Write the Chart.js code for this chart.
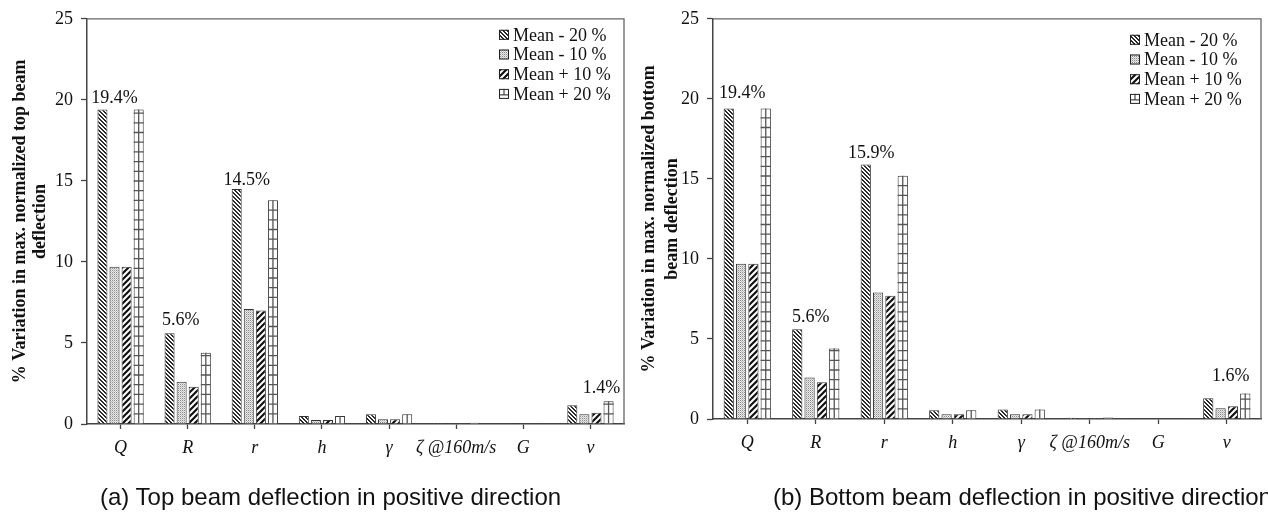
<!DOCTYPE html>
<html>
<head>
<meta charset="utf-8">
<script src="https://cdn.jsdelivr.net/npm/chart.js@4/dist/chart.umd.min.js"></script>
<style>
  html, body { margin: 0; padding: 0; background: #fff; }
  body { width: 1268px; height: 512px; position: relative; overflow: hidden; }
  .box { position: absolute; top: 0; width: 634px; height: 512px; }
  .caption { position: absolute; top: 483px; font: 24px "Liberation Sans", Arial, sans-serif; color: #111; white-space: nowrap; }
</style>
</head>
<body>
<div class="box" style="left:0"><canvas id="chartTop"></canvas></div>
<div class="box" style="left:634px"><canvas id="chartBottom"></canvas></div>
<div class="caption" style="left:100px">(a) Top beam deflection in positive direction</div>
<div class="caption" style="left:773px">(b) Bottom beam deflection in positive direction</div>
<script>
const categories = ["Q", "R", "r", "h", "γ", "ζ @160m/s", "G", "v"];
const seriesLabels = ["Mean - 20 %", "Mean - 10 %", "Mean + 10 %", "Mean + 20 %"];
const yTicks = [0, 5, 10, 15, 20, 25];

// (a) top beam
const topMinus20 = [19.4, 5.6, 14.5, 0.5, 0.6, 0.05, 0.02, 1.15];
const topMinus10 = [9.7, 2.6, 7.1, 0.25, 0.3, 0.04, 0.02, 0.6];
const topPlus10 = [9.7, 2.3, 7.0, 0.25, 0.3, 0.04, 0.02, 0.7];
const topPlus20 = [19.4, 4.4, 13.8, 0.5, 0.6, 0.08, 0.02, 1.4];

// (b) bottom beam
const bottomMinus20 = [19.4, 5.6, 15.9, 0.55, 0.6, 0.08, 0.02, 1.3];
const bottomMinus10 = [9.7, 2.6, 7.9, 0.3, 0.3, 0.05, 0.02, 0.67];
const bottomPlus10 = [9.7, 2.3, 7.7, 0.3, 0.3, 0.05, 0.02, 0.8];
const bottomPlus20 = [19.4, 4.4, 15.2, 0.55, 0.6, 0.1, 0.02, 1.6];

const SERIF = '"Liberation Serif", "Times New Roman", serif';

function tile(size, draw) {
  const c = document.createElement("canvas");
  c.width = size; c.height = size;
  const g = c.getContext("2d");
  g.fillStyle = "#fff";
  g.fillRect(0, 0, size, size);
  draw(g);
  return c.getContext("2d").createPattern(c, "repeat");
}

const patterns = [
  // dense backslash hatch
  tile(4, (g) => {
    g.fillStyle = "#2a2a2a";
    for (let i = 0; i < 4; i++) { g.fillRect(i, i, 1, 1); g.fillRect((i + 1) % 4, i, 1, 1); }
  }),
  // fine dots
  tile(2, (g) => {
    g.fillStyle = "#e8e8e8"; g.fillRect(0, 0, 2, 2);
    g.fillStyle = "#8c8c8c"; g.fillRect(0, 0, 1, 1);
    g.fillStyle = "#c4c4c4"; g.fillRect(1, 1, 1, 1);
  }),
  // wide forward slash
  tile(6, (g) => {
    g.strokeStyle = "#111"; g.lineWidth = 2.2;
    g.beginPath();
    g.moveTo(-1, 7); g.lineTo(7, -1);
    g.moveTo(-1, 1); g.lineTo(1, -1);
    g.moveTo(5, 7); g.lineTo(7, 5);
    g.stroke();
  }),
  "#fff"
];

// grid lines inside the "+20 %" bars
const gridBars = {
  id: "gridBars",
  afterDatasetsDraw(chart) {
    const ctx = chart.ctx;
    const meta = chart.getDatasetMeta(3);
    ctx.save();
    ctx.strokeStyle = "#555";
    ctx.lineWidth = 1.3;
    meta.data.forEach((bar) => {
      const { x, y, base, width } = bar.getProps(["x", "y", "base", "width"], true);
      if (base - y < 3) return;
      ctx.beginPath();
      for (let yy = base - 9.7; yy > y + 2; yy -= 9.7) {
        ctx.moveTo(x - width / 2, yy); ctx.lineTo(x + width / 2, yy);
      }
      ctx.moveTo(x, y); ctx.lineTo(x, base);
      ctx.stroke();
    });
    ctx.restore();
  }
};

const extras = {
  id: "extras",
  afterDraw(chart, args, opts) {
    const ctx = chart.ctx;
    const a = chart.chartArea;
    ctx.save();
    // frame top and right
    ctx.strokeStyle = "#666";
    ctx.lineWidth = 1.3;
    ctx.beginPath();
    ctx.moveTo(a.left, a.top); ctx.lineTo(a.right, a.top); ctx.lineTo(a.right, a.bottom);
    ctx.stroke();

    // legend
    ctx.font = "18px " + SERIF;
    ctx.textBaseline = "middle";
    seriesLabels.forEach((lab, i) => {
      const lx = a.right - opts.legendDx;
      const ly = a.top + opts.legendDy + i * 19.7;
      ctx.fillStyle = patterns[i];
      ctx.fillRect(lx, ly - 5, 10, 10);
      ctx.strokeStyle = "#222"; ctx.lineWidth = 1;
      ctx.strokeRect(lx + 0.5, ly - 4.5, 9, 9);
      if (i === 3) {
        ctx.beginPath();
        ctx.moveTo(lx, ly + 1); ctx.lineTo(lx + 10, ly + 1);
        ctx.moveTo(lx + 5, ly - 5); ctx.lineTo(lx + 5, ly + 1);
        ctx.stroke();
      }
      ctx.fillStyle = "#111";
      ctx.fillText(lab, lx + 14, ly + 1);
    });

    // value labels over the tallest bars
    ctx.textAlign = "center";
    ctx.textBaseline = "alphabetic";
    opts.valueLabels.forEach(([cat, dx, dy]) => {
      const vals = chart.data.datasets.map((d) => d.data[cat]);
      const max = Math.max(...vals);
      const x = chart.scales.x.getPixelForValue(cat) + dx;
      const y = chart.scales.y.getPixelForValue(max) - dy;
      ctx.fillText(max.toFixed(1) + "%", x, y);
    });

    // y-axis title (two lines)
    ctx.font = "bold 18px " + SERIF;
    ctx.textBaseline = "middle";
    const cy = (a.top + a.bottom) / 2;
    opts.yTitle.forEach((line, i) => {
      ctx.save();
      ctx.translate(opts.yTitleX[i], cy);
      ctx.rotate(-Math.PI / 2);
      ctx.fillText(line, 0, 0);
      ctx.restore();
    });
    ctx.restore();
  }
};

function buildChart(id, series, cfg) {
  new Chart(document.getElementById(id), {
    type: "bar",
    data: {
      labels: categories,
      datasets: series.map((vals, i) => ({
        label: seriesLabels[i],
        data: vals,
        backgroundColor: patterns[i],
        borderColor: "#333",
        borderWidth: 1,
        categoryPercentage: 0.72,
        barPercentage: 0.83
      }))
    },
    options: {
      responsive: false,
      animation: false,
      layout: { padding: { left: 0, top: cfg.top, right: cfg.right, bottom: 0 } },
      plugins: {
        legend: { display: false },
        tooltip: { enabled: false },
        extras: cfg.extras
      },
      scales: {
        x: {
          grid: { offset: false, drawOnChartArea: false, tickLength: 5, color: "#444", tickWidth: 1.3 },
          border: { color: "#444", width: 1.5 },
          ticks: {
            color: "#111", padding: 8, autoSkip: false, maxRotation: 0, minRotation: 0,
            font: { family: SERIF, size: 18, style: "italic" }
          },
          afterFit: (s) => { s.height = 512 - cfg.bottomY; }
        },
        y: {
          min: 0, max: 25,
          afterBuildTicks: (s) => { s.ticks = yTicks.map((v) => ({ value: v })); },
          grid: { drawOnChartArea: false, tickLength: 6, color: "#444", tickWidth: 1.3 },
          border: { color: "#444", width: 1.5 },
          ticks: { color: "#111", padding: 8, font: { family: SERIF, size: 18 } },
          afterFit: (s) => { s.width = cfg.axisX; }
        }
      }
    },
    plugins: [gridBars, extras]
  });
}

const cvTop = document.getElementById("chartTop");
cvTop.width = 634; cvTop.height = 512;
const cvBottom = document.getElementById("chartBottom");
cvBottom.width = 634; cvBottom.height = 512;

buildChart("chartTop", [topMinus20, topMinus10, topPlus10, topPlus20], {
  top: 16, right: 10, bottomY: 424, axisX: 87,
  extras: {
    legendDx: 125, legendDy: 16,
    valueLabels: [[0, -6, 7], [1, -7, 8], [2, -8, 4], [7, 11, 8]],
    yTitle: ["% Variation in max. normalized top beam", "deflection"],
    yTitleX: [20, 40]
  }
});

buildChart("chartBottom", [bottomMinus20, bottomMinus10, bottomPlus10, bottomPlus20], {
  top: 11, right: 7, bottomY: 419, axisX: 79,
  extras: {
    legendDx: 131, legendDy: 21,
    valueLabels: [[0, -5, 10], [1, -5, 7], [2, -13, 6], [7, 4, 12]],
    yTitle: ["% Variation in max. normalized bottom", "beam deflection"],
    yTitleX: [15, 38]
  }
});
</script>
</body>
</html>
